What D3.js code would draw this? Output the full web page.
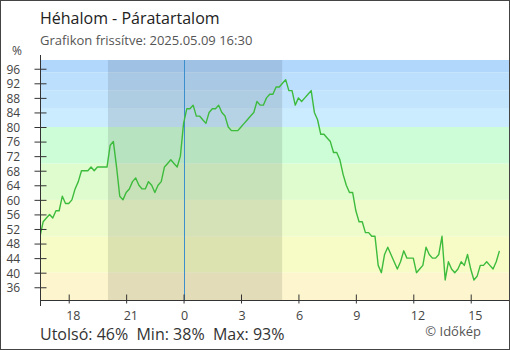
<!DOCTYPE html>
<html><head><meta charset="utf-8">
<script src="https://cdn.jsdelivr.net/npm/d3@7"></script>
<style>
body{margin:0;background:#fff}
svg{display:block}
text{font-family:"Open Sans",sans-serif}
</style>
</head><body>
<svg id="c" width="510" height="350"></svg>
<script>
const title = "Héhalom - Páratartalom";
const subtitle = "Grafikon frissítve: 2025.05.09 16:30";
const startTime = "2025-05-08T16:30";
const endTime = "2025-05-09T17:00";
const stepMinutes = 10;
const humidity = [
 50,54,55,56,55,57,57,61,59,59,
 60,63,65,68,68,68,69,68,69,69,
 69,69,75,76,69,61,60,62,63,65,
 66,64,63,63,65,64,62,64,65,69,
 70,71,70,69,72,81,85,85,86,83,
 83,82,81,84,85,85,86,84,83,80,
 79,79,79,80,81,82,83,84,87,86,
 86,88,89,89,91,91,92,93,90,90,
 86,88,87,88,89,90,84,82,78,78,
 77,76,73,73,71,67,64,62,62,57,
 54,54,51,51,50,50,42,40,45,47,
 45,43,41,43,46,44,44,44,40,41,
 42,47,45,44,44,45,50,38,43,41,
 40,41,43,42,45,41,38,39,42,42,
 43,42,41,43,46
];
const yTicks = [36,40,44,48,52,56,60,64,68,72,76,80,84,88,92,96];
const xTickTimes = ["2025-05-08T18:00","2025-05-08T21:00","2025-05-09T00:00","2025-05-09T03:00","2025-05-09T06:00","2025-05-09T09:00","2025-05-09T12:00","2025-05-09T15:00"];
const xTickLabels = ["18","21","0","3","6","9","12","15"];
const bandBreaks = [0,40,50,60,70,80,85,90,95,100];
const bandColors = ["#fdf5cd","#f7fcc6","#eefccc","#defccd","#ccfdd6","#cbebff","#c2e5fd","#bbdffd","#b1d7fd"];
const nightStart = "2025-05-08T20:03";
const nightEnd = "2025-05-09T05:09";
const midnight = "2025-05-09T00:00";
const lastLabel = "Utolsó", minLabel = "Min", maxLabel = "Max";
const credit = "© Időkép";

const parse = d3.timeParse("%Y-%m-%dT%H:%M");
const t0 = parse(startTime);
const data = humidity.map((v,i)=>({t:d3.timeMinute.offset(t0,i*stepMinutes), v}));

const svg = d3.select("#c");
const L = 40, R = 509, T = 60, B = 300;
const x = d3.scaleTime().domain([t0, parse(endTime)]).range([L, R]);
const y = d3.scaleLinear().domain([32.5, 98.4]).range([B, T]);

svg.append("defs").append("clipPath").attr("id","pc")
  .append("rect").attr("x",L).attr("y",T).attr("width",R-L).attr("height",B-T);

const g = svg.append("g").attr("clip-path","url(#pc)");
g.selectAll("rect.band").data(bandColors).join("rect").attr("class","band")
  .attr("x",L).attr("width",R-L)
  .attr("y",(c,i)=>y(Math.min(bandBreaks[i+1],98.4)))
  .attr("height",(c,i)=>y(Math.max(bandBreaks[i],32.5))-y(Math.min(bandBreaks[i+1],98.4)))
  .attr("fill",c=>c);
g.append("rect").attr("x",x(parse(nightStart))).attr("width",x(parse(nightEnd))-x(parse(nightStart)))
  .attr("y",T).attr("height",B-T).attr("fill","rgba(0,0,0,0.1)");
g.append("line").attr("x1",Math.round(x(parse(midnight)))+0.5).attr("x2",Math.round(x(parse(midnight)))+0.5)
  .attr("y1",T).attr("y2",B).attr("stroke","#3b8fcc").attr("stroke-width",1);
g.append("path").datum(data)
  .attr("d",d3.line().x(d=>x(d.t)).y(d=>y(d.v)))
  .attr("fill","none").attr("stroke","#3dbb3d").attr("stroke-width",1.4).attr("stroke-linejoin","round");

const axisColor = "#333";
svg.append("line").attr("x1",L+0.5).attr("x2",L+0.5).attr("y1",55).attr("y2",306).attr("stroke",axisColor);
svg.append("line").attr("x1",L).attr("x2",R).attr("y1",B+0.5).attr("y2",B+0.5).attr("stroke",axisColor);

const ya = svg.append("g").attr("transform",`translate(${L+0.5},0)`)
  .call(d3.axisLeft(y).tickValues(yTicks).tickSize(6).tickPadding(0));
ya.select(".domain").remove();
ya.selectAll(".tick line").attr("x1",6).attr("x2",-6).attr("stroke",axisColor);
ya.selectAll(".tick text").attr("x",-34).attr("text-anchor","start").attr("dy","0.36em")
  .attr("fill","#444").style("font-size","12px").style("font-family","'Open Sans',sans-serif");

const xa = svg.append("g").attr("transform",`translate(0,${B+0.5})`)
  .call(d3.axisBottom(x).tickValues(xTickTimes.map(parse)).tickFormat((d,i)=>xTickLabels[i]).tickSize(3));
xa.select(".domain").remove();
xa.selectAll(".tick line").attr("y1",-6).attr("y2",3).attr("stroke",axisColor);
xa.selectAll(".tick text").attr("y",19).attr("dy",0).attr("x",-3).attr("text-anchor","start")
  .attr("fill","#444").style("font-size","12.5px").style("font-family","'Open Sans',sans-serif");

svg.append("text").attr("x",40).attr("y",24).attr("fill","#222").style("font-size","16px").text(title);
svg.append("text").attr("x",40).attr("y",45).attr("fill","#555").style("font-size","13px").text(subtitle);
svg.append("text").attr("x",17).attr("y",55).attr("text-anchor","middle").attr("fill","#444").style("font-size","12px").text("%");
const last = humidity[humidity.length-1], mn = d3.min(humidity), mx = d3.max(humidity);
svg.append("text").attr("x",40).attr("y",340).attr("fill","#333").style("font-size","16px")
  .text(`${lastLabel}: ${last}%\u00a0\u00a0${minLabel}: ${mn}%\u00a0\u00a0${maxLabel}: ${mx}%`);
svg.append("text").attr("x",481).attr("y",336).attr("text-anchor","end").attr("fill","#555").style("font-size","13px").text(credit);

svg.append("rect").attr("x",0.5).attr("y",0.5).attr("width",509).attr("height",349)
  .attr("fill","none").attr("stroke","#444");
</script>
</body></html>
